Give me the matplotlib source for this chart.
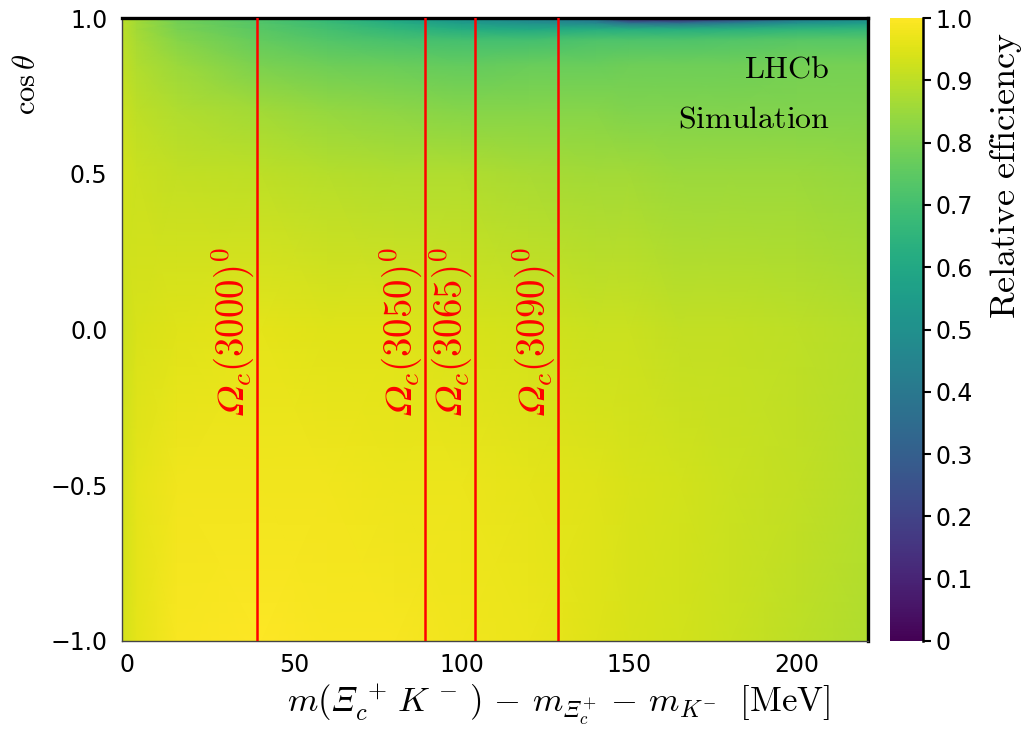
import numpy as np
import matplotlib
matplotlib.use("Agg")
import matplotlib.pyplot as plt

plt.rcParams['mathtext.fontset'] = 'cm'
plt.rcParams['font.family'] = ['DejaVu Sans']

# ---- data ----
x_nodes = [-1.6, 3, 15, 40, 60, 80, 100, 120, 140, 150, 165, 180, 200, 221.2]
y_nodes = [-1.0, -0.5, 0.0, 0.5, 0.7, 0.85, 0.93, 0.965, 0.985, 1.0]
eff_m100 = [0.93, 0.96, 0.99, 1.00, 0.99, 0.99, 0.98, 0.97, 0.95, 0.94, 0.93, 0.92, 0.90, 0.88]
eff_m050 = [0.93, 0.96, 0.98, 0.98, 0.98, 0.97, 0.97, 0.96, 0.95, 0.94, 0.93, 0.92, 0.91, 0.89]
eff_p000 = [0.92, 0.94, 0.95, 0.96, 0.95, 0.95, 0.94, 0.93, 0.92, 0.92, 0.91, 0.91, 0.90, 0.89]
eff_p050 = [0.93, 0.92, 0.91, 0.90, 0.89, 0.88, 0.88, 0.87, 0.86, 0.86, 0.85, 0.85, 0.85, 0.84]
eff_p070 = [0.92, 0.90, 0.88, 0.86, 0.84, 0.83, 0.82, 0.82, 0.82, 0.81, 0.81, 0.81, 0.81, 0.81]
eff_p085 = [0.91, 0.88, 0.85, 0.80, 0.78, 0.77, 0.76, 0.77, 0.77, 0.78, 0.78, 0.78, 0.79, 0.79]
eff_p093 = [0.90, 0.87, 0.82, 0.76, 0.73, 0.71, 0.70, 0.70, 0.72, 0.72, 0.72, 0.73, 0.74, 0.74]
eff_p0965 = [0.90, 0.86, 0.80, 0.74, 0.70, 0.66, 0.62, 0.60, 0.62, 0.62, 0.62, 0.63, 0.65, 0.66]
eff_p0985 = [0.90, 0.86, 0.79, 0.73, 0.68, 0.62, 0.55, 0.50, 0.46, 0.36, 0.35, 0.42, 0.50, 0.55]
eff_p100 = [0.90, 0.86, 0.78, 0.72, 0.66, 0.58, 0.50, 0.45, 0.38, 0.08, 0.06, 0.15, 0.38, 0.48]

state_q = [38.7, 89.0, 103.9, 128.7]
state_names = ['3000', '3050', '3065', '3090']

x_ticks = [0, 50, 100, 150, 200]
y_ticks = [-1.0, -0.5, 0.0, 0.5, 1.0]
cb_ticks = [0, 0.1, 0.2, 0.3, 0.4, 0.5, 0.6, 0.7, 0.8, 0.9, 1.0]
cb_labels = ['0', '0.1', '0.2', '0.3', '0.4', '0.5', '0.6', '0.7', '0.8', '0.9', '1.0']

Z = np.array([eff_m100, eff_m050, eff_p000, eff_p050, eff_p070,
              eff_p085, eff_p093, eff_p0965, eff_p0985, eff_p100])

fig = plt.figure(figsize=(10.27, 7.42), dpi=100)
W, H = 1027, 742
ax = fig.add_axes([121.5 / W, (H - 641) / H, (868 - 121.5) / W, (641 - 18) / H])
mesh = ax.pcolormesh(x_nodes, y_nodes, Z, shading='gouraud', cmap='viridis',
                     vmin=0, vmax=1, rasterized=True)
ax.set_xlim(x_nodes[0], x_nodes[-1])
ax.set_ylim(-1, 1)

for q, nm in zip(state_q, state_names):
    ax.axvline(q, color='red', lw=1.8, zorder=3)
    ax.text(q - 0.2, -0.01, r'$𝛺_c(%s)^{0}$' % nm, color='red', fontsize=28,
            rotation=90, ha='right', va='center', zorder=4)

ax.set_xticks(x_ticks)
ax.set_xticklabels([str(v) for v in x_ticks])
ax.set_yticks(y_ticks)
ax.set_yticklabels(['\u22121.0', '\u22120.5', '0.0', '0.5', '1.0'])
ax.tick_params(axis='both', length=0, labelsize=17)
ax.tick_params(axis='x', pad=9)
ax.tick_params(axis='y', pad=10)

for s in ['top', 'right']:
    ax.spines[s].set_linewidth(2.4)
    ax.spines[s].set_color('black')
for s in ['left', 'bottom']:
    ax.spines[s].set_linewidth(1.0)
    ax.spines[s].set_color('#444444')

ax.text(0.949, -0.103,
        r'$m(𝛯_c^{\,+}\,K^{\,-}\,)\,-\,m_{𝛯_c^{+}}\,-\,m_{K^{-}}\ \ [\mathrm{MeV}]$',
        transform=ax.transAxes, ha='right', va='center', fontsize=25)
ax.text(-0.1266, 0.894, r'$\cos\theta$', transform=ax.transAxes, rotation=90,
        ha='center', va='center', fontsize=22)

ax.text(0.949, 0.918, r'$\mathrm{LHCb}$', transform=ax.transAxes, ha='right',
        va='center', fontsize=23)
ax.text(0.949, 0.838, r'$\mathrm{Simulation}$', transform=ax.transAxes, ha='right',
        va='center', fontsize=23)

cax = fig.add_axes([890 / W, (H - 641) / H, 33 / W, (641 - 18) / H])
cb = fig.colorbar(mesh, cax=cax)
cb.outline.set_visible(False)
cb.set_ticks(cb_ticks)
cb.set_ticklabels(cb_labels)
cax.tick_params(length=6, width=1.5, labelsize=17, pad=3, direction='out')
cax.plot([1, 1], [0, 1], transform=cax.transAxes, color='black', lw=1.8,
         clip_on=False)
fig.text(1006 / W, 1 - 176 / H, r'$\mathrm{Relative\ efficiency}$', rotation=90,
         ha='center', va='center', fontsize=26)

fig.savefig('out.png', dpi=100)
